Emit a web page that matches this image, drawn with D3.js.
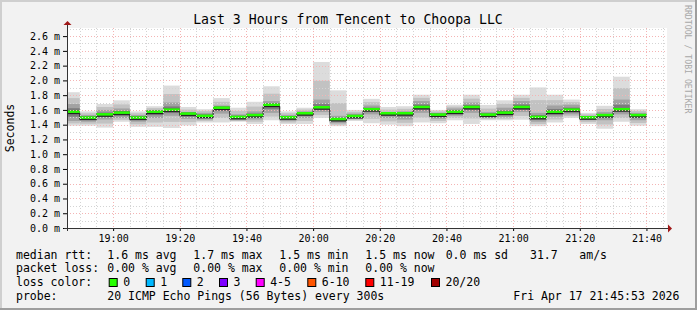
<!DOCTYPE html>
<html>
<head>
<meta charset="utf-8">
<script src="https://cdn.jsdelivr.net/npm/d3@7"></script>
<style>
  body { margin: 0; background: #f2f2f2; }
  text { font-family: "DejaVu Sans Mono", monospace; fill: #000; }
</style>
</head>
<body>
<div id="chart"></div>
<script>
// 5 minute steps, start time of each step
let stepStarts = ["18:45","18:50","18:55","19:00","19:05","19:10","19:15","19:20","19:25","19:30",
                  "19:35","19:40","19:45","19:50","19:55","20:00","20:05","20:10","20:15","20:20",
                  "20:25","20:30","20:35","20:40","20:45","20:50","20:55","21:00","21:05","21:10",
                  "21:15","21:20","21:25","21:30","21:35"];
// median rtt (ms)
let median = [1.566,1.486,1.530,1.553,1.486,1.566,1.594,1.540,1.510,1.620,
              1.495,1.520,1.660,1.490,1.545,1.626,1.467,1.508,1.600,1.545,
              1.545,1.630,1.526,1.566,1.630,1.526,1.553,1.630,1.495,1.566,
              1.594,1.490,1.520,1.600,1.520];
// smoke extent (ms)
let smokeLo = [1.386,1.386,1.360,1.440,1.370,1.370,1.355,1.390,1.430,1.430,
               1.440,1.410,1.460,1.410,1.410,1.490,1.380,1.450,1.420,1.400,
               1.380,1.430,1.420,1.460,1.410,1.460,1.460,1.467,1.380,1.430,
               1.490,1.410,1.345,1.440,1.386];
let smokeHi = [1.840,1.580,1.680,1.730,1.580,1.650,1.930,1.640,1.610,1.760,
               1.630,1.710,1.920,1.580,1.630,2.250,1.865,1.600,1.750,1.640,
               1.650,1.806,1.600,1.670,1.806,1.667,1.730,1.806,1.905,1.806,
               1.740,1.560,1.656,2.050,1.610];
// denser part of the smoke (ms)
let coreLo = [1.45,1.44,1.47,1.49,1.44,1.49,1.52,1.48,1.47,1.55,
              1.46,1.47,1.56,1.45,1.49,1.57,1.42,1.48,1.54,1.49,
              1.47,1.56,1.48,1.52,1.56,1.49,1.50,1.57,1.44,1.51,
              1.54,1.46,1.46,1.54,1.46];
let coreHi = [1.68,1.53,1.60,1.62,1.53,1.60,1.70,1.57,1.56,1.66,
              1.54,1.58,1.72,1.53,1.58,1.74,1.52,1.55,1.66,1.57,
              1.58,1.72,1.56,1.62,1.70,1.57,1.63,1.72,1.56,1.66,
              1.67,1.52,1.57,1.74,1.56];

let yTicks = [0,0.2,0.4,0.6,0.8,1.0,1.2,1.4,1.6,1.8,2.0,2.2,2.4,2.6];
let yTickLabels = ["0.0 m","0.2 m","0.4 m","0.6 m","0.8 m","1.0 m","1.2 m","1.4 m","1.6 m","1.8 m","2.0 m","2.2 m","2.4 m","2.6 m"];
let xTickLabels = ["19:00","19:20","19:40","20:00","20:20","20:40","21:00","21:20","21:40"];

let rttStats = ["1.6 ms avg","1.7 ms max","1.5 ms min","1.5 ms now","0.0 ms sd","31.7","am/s"];
let lossStats = ["0.00 % avg","0.00 % max","0.00 % min","0.00 % now"];
let lossLabels = ["0","1","2","3","4-5","6-10","11-19","20/20"];
let lossColors = ["#26ff00","#00b8ff","#0059ff","#7e00ff","#ff00ff","#ff5500","#ff0000","#a10000"];

const W = 697, H = 310;
const pL = 67, pR = 667, pT = 28, pB = 228;
const parseT = d3.timeParse("%H:%M:%S");

let svg = d3.select("#chart").append("svg")
    .attr("width", W).attr("height", H);

// background + 3d frame
svg.append("rect").attr("width", W).attr("height", H).attr("fill", "#f2f2f2");
svg.append("rect").attr("x", 0).attr("y", 0).attr("width", W).attr("height", 2).attr("fill", "#cfcfcf");
svg.append("rect").attr("x", 0).attr("y", 0).attr("width", 2).attr("height", H).attr("fill", "#cfcfcf");
svg.append("rect").attr("x", 0).attr("y", H - 2).attr("width", W).attr("height", 2).attr("fill", "#9e9e9e");
svg.append("rect").attr("x", W - 2).attr("y", 0).attr("width", 2).attr("height", H).attr("fill", "#9e9e9e");

// canvas
svg.append("rect").attr("x", pL).attr("y", pT)
    .attr("width", pR - pL).attr("height", pB - pT).attr("fill", "#fff");

let x = d3.scaleTime()
    .domain([parseT("18:46:10"), parseT("21:46:10")])
    .range([pL, pR]);
let y = d3.scaleLinear().domain([0, 2.71]).range([pB, pT]);

svg.append("clipPath").attr("id", "plotclip")
  .append("rect").attr("x", pL).attr("y", pT).attr("width", pR - pL).attr("height", pB - pT);

let steps = stepStarts.map((s, i) => ({
    t0: parseT(s + ":00"),
    t1: d3.timeMinute.offset(parseT(s + ":00"), 5),
    med: median[i], lo: smokeLo[i], hi: smokeHi[i], clo: coreLo[i], chi: coreHi[i]
}));

let plot = svg.append("g").attr("clip-path", "url(#plotclip)");

// smoke
function band(g, lo, hi, color) {
    g.selectAll(null).data(steps).enter().append("rect")
        .attr("x", d => x(d.t0))
        .attr("width", d => x(d.t1) - x(d.t0))
        .attr("y", d => y(hi(d)))
        .attr("height", d => y(lo(d)) - y(hi(d)))
        .attr("fill", color);
}
band(plot, d => d.lo, d => d.hi, "#dcdcdc");
band(plot, d => (d.lo + d.clo) / 2, d => (d.hi + d.chi) / 2, "#c2c2c2");
band(plot, d => d.clo, d => d.chi, "#a2a2a2");
band(plot, d => (d.clo + d.med) / 2, d => (d.chi + d.med) / 2, "#7c7c7c");
band(plot, d => d.med - 0.025, d => d.med + 0.025, "#555555");

// grid on top of the smoke
let grid = svg.append("g");
let minorT = x.ticks(d3.timeMinute.every(5));
let majorT = x.ticks(d3.timeMinute.every(20));
let minorY = d3.range(1, 28).map(i => i / 10);
grid.selectAll(".vmin").data(minorT).enter().append("line")
    .attr("x1", d => Math.round(x(d)) + 0.5).attr("x2", d => Math.round(x(d)) + 0.5)
    .attr("y1", pT).attr("y2", pB)
    .attr("stroke", "#d4d4d4").attr("stroke-dasharray", "1,2");
grid.selectAll(".hmin").data(minorY.filter(v => Math.round(v * 10) % 2 == 1)).enter().append("line")
    .attr("x1", pL).attr("x2", pR)
    .attr("y1", d => Math.round(y(d)) + 0.5).attr("y2", d => Math.round(y(d)) + 0.5)
    .attr("stroke", "#d4d4d4").attr("stroke-dasharray", "1,2");
grid.selectAll(".hmaj").data(yTicks.slice(1)).enter().append("line")
    .attr("x1", pL).attr("x2", pR)
    .attr("y1", d => Math.round(y(d)) + 0.5).attr("y2", d => Math.round(y(d)) + 0.5)
    .attr("stroke", "#f4b4b4").attr("stroke-dasharray", "1,2");
grid.selectAll(".vmaj").data(majorT).enter().append("line")
    .attr("x1", d => Math.round(x(d)) + 0.5).attr("x2", d => Math.round(x(d)) + 0.5)
    .attr("y1", pT).attr("y2", pB)
    .attr("stroke", "#f4b4b4").attr("stroke-dasharray", "1,2");

// median: black step line + loss coloured band
let stepLine = d3.line()
    .x(d => x(d[0])).y(d => y(d[1]) + 1)
    .curve(d3.curveStepAfter);
let pts = steps.map(d => [d.t0, d.med]);
pts.push([steps[steps.length - 1].t1, steps[steps.length - 1].med]);
plot.append("path").attr("d", stepLine(pts))
    .attr("fill", "none").attr("stroke", "#202020").attr("stroke-width", 1);
plot.selectAll(".med").data(steps).enter().append("rect")
    .attr("x", d => x(d.t0))
    .attr("width", d => x(d.t1) - x(d.t0))
    .attr("y", d => y(d.med) - 2)
    .attr("height", 2.5)
    .attr("fill", lossColors[0]);

// axes
let yAxis = d3.axisLeft(y).tickValues(yTicks)
    .tickFormat((d, i) => yTickLabels[i]).tickSize(4).tickPadding(3);
let gy = svg.append("g").attr("transform", `translate(${pL},0)`).call(yAxis);
gy.select(".domain").remove();
gy.selectAll("text").attr("font-size", 10).attr("font-family", "DejaVu Sans Mono");

let xAxis = d3.axisBottom(x).tickValues(xTickLabels.map(s => parseT(s + ":00")))
    .tickFormat((d, i) => xTickLabels[i]).tickSize(3).tickPadding(4);
let gx = svg.append("g").attr("transform", `translate(0,${pB})`).call(xAxis);
gx.select(".domain").remove();
gx.selectAll("text").attr("font-size", 10).attr("font-family", "DejaVu Sans Mono");

svg.append("line").attr("x1", pL + 0.5).attr("x2", pL + 0.5).attr("y1", pB + 3).attr("y2", pT - 4)
    .attr("stroke", "#333");
svg.append("line").attr("x1", pL - 3).attr("x2", pR + 3).attr("y1", pB + 0.5).attr("y2", pB + 0.5)
    .attr("stroke", "#333");
svg.append("path").attr("d", `M${pL - 3.5},${pT - 3} L${pL + 0.5},${pT - 7} L${pL + 4.5},${pT - 3} Z`)
    .attr("fill", "#a01818");
svg.append("path").attr("d", `M${pR + 1},${pB - 3.5} L${pR + 5},${pB + 0.5} L${pR + 1},${pB + 4.5} Z`)
    .attr("fill", "#a01818");

// titles
svg.append("text").attr("x", 348).attr("y", 24).attr("text-anchor", "middle")
    .attr("font-size", 13.2).text("Last 3 Hours from Tencent to Choopa LLC");
svg.append("text").attr("transform", "translate(14,128) rotate(-90)").attr("text-anchor", "middle")
    .attr("font-size", 11.5).text("Seconds");
svg.append("text").attr("transform", "translate(685,5) rotate(90)")
    .attr("font-size", 8.2).style("fill", "#a8a8a8").text("RRDTOOL / TOBI OETIKER");

// legend
let leg = svg.append("g").attr("font-size", 11.5).style("white-space", "pre");
let rowY = [258.5, 272.3, 286.3, 300];
let colX = [107.3, 193.3, 279.3, 365.3, 445.7, 530, 579.3];
leg.append("text").attr("x", 16).attr("y", rowY[0]).text("median rtt:");
rttStats.forEach((s, i) => leg.append("text").attr("x", colX[i]).attr("y", rowY[0]).text(s));
leg.append("text").attr("x", 16).attr("y", rowY[1]).text("packet loss:");
lossStats.forEach((s, i) => leg.append("text").attr("x", colX[i]).attr("y", rowY[1]).text(s));
leg.append("text").attr("x", 16).attr("y", rowY[2]).text("loss color:");
let boxX = [108.7, 145.7, 182.3, 219, 255.7, 307.3, 365.3, 431];
lossLabels.forEach((s, i) => {
    leg.append("rect").attr("x", boxX[i] + 0.5).attr("y", 278.5).attr("width", 8).attr("height", 8)
        .attr("fill", lossColors[i]).attr("stroke", "#000").attr("stroke-width", 1);
    leg.append("text").attr("x", boxX[i] + 14.5).attr("y", rowY[2]).text(s);
});
leg.append("text").attr("x", 16).attr("y", rowY[3]).text("probe:");
leg.append("text").attr("x", 107.3).attr("y", rowY[3]).text("20 ICMP Echo Pings (56 Bytes) every 300s");
leg.append("text").attr("x", 513.3).attr("y", rowY[3]).text("Fri Apr 17 21:45:53 2026");
</script>
</body>
</html>
